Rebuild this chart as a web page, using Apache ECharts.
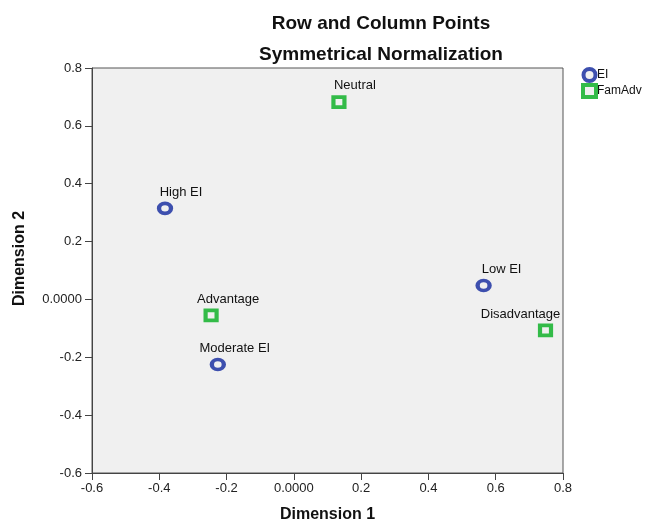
<!DOCTYPE html>
<html>
<head>
<meta charset="utf-8">
<script src="https://cdn.jsdelivr.net/npm/echarts@6/dist/echarts.min.js"></script>
<style>
  html, body { margin: 0; padding: 0; background: #ffffff; }
  #chart { width: 648px; height: 525px; }
</style>
</head>
<body>
<div id="chart"></div>
<script>
// Row points (EI categories)
const eiNames = ['High EI', 'Moderate EI', 'Low EI'];
const eiDim1 = [-0.383, -0.226, 0.564];
const eiDim2 = [0.315, -0.225, 0.048];

// Column points (FamAdv categories)
const famNames = ['Neutral', 'Advantage', 'Disadvantage'];
const famDim1 = [0.134, -0.246, 0.748];
const famDim2 = [0.682, -0.055, -0.107];

// Axis ticks
const axisMin = -0.6;
const axisMax = 0.8;
const axisStep = 0.2;

// Horizontal nudge of each point label so that labels don't collide
const labelShift = {
  'High EI': 16, 'Moderate EI': 17, 'Low EI': 18,
  'Neutral': 16, 'Advantage': 17, 'Disadvantage': -25
};

const FONT = 'Liberation Sans, Arial, sans-serif';
const BLUE = '#3d4fae';
const GREEN = '#33bb48';
const PLOT_BG = '#f0f0f0';

function tickFmt(v) {
  if (Math.abs(v) < 1e-9) return '0.0000';
  return (Math.round(v * 10) / 10).toFixed(1);
}

function points(names, xs, ys) {
  return names.map((n, i) => ({
    name: n,
    value: [xs[i], ys[i]],
    label: { offset: [labelShift[n] || 0, 0] }
  }));
}

const pointLabel = {
  show: true,
  formatter: '{b}',
  position: 'top',
  distance: 3,
  color: '#111',
  fontFamily: FONT,
  fontSize: 13
};

function axisCommon(name) {
  return {
    type: 'value',
    min: axisMin,
    max: axisMax,
    interval: axisStep,
    name: name,
    nameLocation: 'middle',
    nameTextStyle: { fontFamily: FONT, fontSize: 16, fontWeight: 'bold', color: '#111' },
    axisLine: { show: true, onZero: false, lineStyle: { color: '#444', width: 1 } },
    axisTick: { show: true, inside: false, length: 7, lineStyle: { color: '#444' } },
    axisLabel: { formatter: tickFmt, fontFamily: FONT, fontSize: 13, color: '#222' },
    splitLine: { show: false }
  };
}

const chart = echarts.init(document.getElementById('chart'), null, { renderer: 'canvas' });

const xAxis = axisCommon('Dimension 1');
xAxis.nameGap = 34;
xAxis.axisLabel.margin = 9;

const yAxis = axisCommon('Dimension 2');
yAxis.nameGap = 64;
yAxis.axisLabel.margin = 10;
yAxis.nameTextStyle.padding = [0, 0, 0, 24];

chart.setOption({
  backgroundColor: '#ffffff',
  animation: false,
  title: [
    {
      text: 'Row and Column Points',
      left: 376, top: 9, textAlign: 'center',
      textStyle: { fontFamily: FONT, fontSize: 19, fontWeight: 'bold', color: '#111' }
    },
    {
      text: 'Symmetrical Normalization',
      left: 376, top: 40, textAlign: 'center',
      textStyle: { fontFamily: FONT, fontSize: 19, fontWeight: 'bold', color: '#111' }
    }
  ],
  legend: {
    orient: 'vertical',
    left: 576,
    top: 62,
    itemWidth: 13,
    itemHeight: 12,
    itemGap: 0,
    textStyle: { fontFamily: FONT, fontSize: 12, color: '#111', padding: [0, 0, 0, -4] },
    data: [
      { name: 'EI', icon: 'circle', itemStyle: { borderWidth: 4 } },
      { name: 'FamAdv', icon: 'rect', itemStyle: { borderWidth: 4 } }
    ]
  },
  grid: {
    left: 92, right: 85, top: 68, bottom: 52,
    outerBoundsMode: 'none',
    show: true,
    backgroundColor: PLOT_BG,
    borderColor: '#555',
    borderWidth: 1
  },
  xAxis: xAxis,
  yAxis: yAxis,
  series: [
    {
      name: 'EI',
      type: 'scatter',
      symbol: 'circle',
      symbolSize: [12, 10],
      itemStyle: { color: PLOT_BG, borderColor: BLUE, borderWidth: 4, opacity: 1 },
      label: pointLabel,
      data: points(eiNames, eiDim1, eiDim2)
    },
    {
      name: 'FamAdv',
      type: 'scatter',
      symbol: 'rect',
      symbolSize: [11, 10],
      itemStyle: { color: PLOT_BG, borderColor: GREEN, borderWidth: 4, opacity: 1 },
      label: pointLabel,
      data: points(famNames, famDim1, famDim2)
    }
  ]
});
</script>
</body>
</html>
